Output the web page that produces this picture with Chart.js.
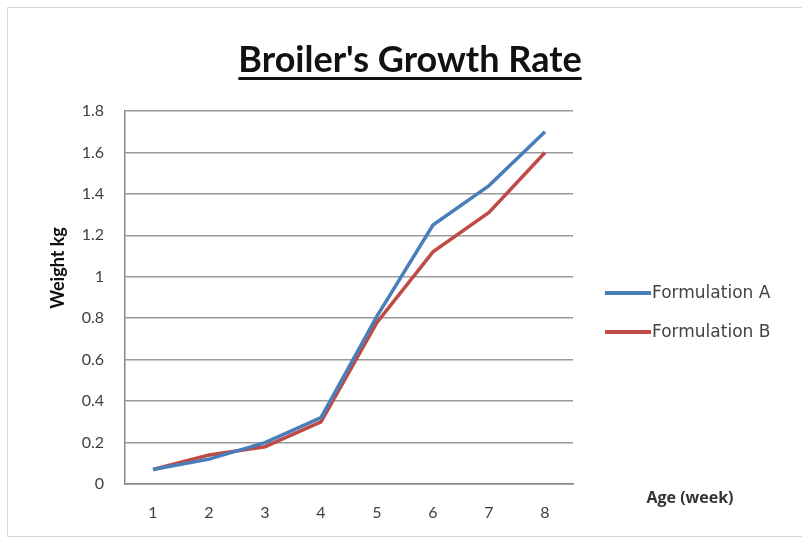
<!DOCTYPE html>
<html>
<head>
<meta charset="utf-8">
<script src="https://cdn.jsdelivr.net/npm/chart.js@4.4.0/dist/chart.umd.min.js"></script>
<style>
  html, body { margin: 0; padding: 0; background: #fff; }
  #wrap { position: relative; width: 802px; height: 545px; }
  #frame { position: absolute; left: 7px; top: 7px; width: 800px; height: 530px; border: 1px solid #d8d8d8; box-sizing: border-box; }
  canvas { position: absolute; left: 0; top: 0; }
</style>
</head>
<body>
<div id="wrap">
  <div id="frame"></div>
  <canvas id="growthChart" width="802" height="545"></canvas>
</div>
<script>
  var weeks = ['1', '2', '3', '4', '5', '6', '7', '8'];
  var formulationA = [0.07, 0.12, 0.20, 0.32, 0.81, 1.25, 1.44, 1.70];
  var formulationB = [0.07, 0.14, 0.18, 0.30, 0.78, 1.12, 1.31, 1.60];
  var seriesNames = ['Formulation A', 'Formulation B'];
  var chartTitle = "Broiler's Growth Rate";
  var yTitle = 'Weight kg';
  var xTitle = 'Age (week)';

  var font = "Lato, 'Open Sans', sans-serif";

  /* titles and legend drawn by hand */
  var decorations = {
    id: 'decorations',
    afterDraw: function (chart) {
      var ctx = chart.ctx;
      ctx.save();
      ctx.fillStyle = '#111';
      ctx.font = 'bold 36px ' + font;
      ctx.textAlign = 'center';
      ctx.textBaseline = 'alphabetic';
      ctx.fillText(chartTitle, 410, 72);
      var w = ctx.measureText(chartTitle).width;
      ctx.fillRect(410 - w / 2, 77, w, 3);

      // y title
      ctx.save();
      ctx.translate(58, 268);
      ctx.rotate(-Math.PI / 2);
      ctx.textBaseline = 'middle';
      ctx.font = 'bold 18px ' + font;
      ctx.fillText(yTitle, 0, 0);
      ctx.restore();

      ctx.font = "bold 16px 'Open Sans', sans-serif";
      ctx.fillStyle = '#333';
      ctx.textBaseline = 'middle';
      ctx.fillText(xTitle, 690, 498);

      ctx.textAlign = 'left';
      ctx.font = "17px 'DejaVu Sans', sans-serif";
      chart.data.datasets.forEach(function (ds, i) {
        var y = 293 + i * 39;
        ctx.strokeStyle = ds.borderColor;
        ctx.lineWidth = 4;
        ctx.beginPath();
        ctx.moveTo(605, y);
        ctx.lineTo(651, y);
        ctx.stroke();
        ctx.fillStyle = '#444';
        ctx.fillText(ds.label, 652, y + 1);
      });
      ctx.restore();
    }
  };

  window.addEventListener('DOMContentLoaded', function () {
    var ctx = document.getElementById('growthChart').getContext('2d');
    new Chart(ctx, {
      type: 'line',
      data: {
        labels: weeks,
        datasets: [{
          label: seriesNames[0],
          data: formulationA,
          borderColor: '#4a7ebb',
          borderWidth: 3.5,
          pointRadius: 0,
          tension: 0
        }, {
          label: seriesNames[1],
          data: formulationB,
          borderColor: '#be4b48',
          borderWidth: 3.5,
          pointRadius: 0,
          tension: 0
        }]
      },
      options: {
        responsive: false,
        animation: false,
        layout: { padding: { left: 51, top: 111, right: 229, bottom: 0 } },
        plugins: {
          legend: { display: false },
          tooltip: { enabled: false }
        },
        scales: {
          x: {
            offset: true,
            grid: { display: false, drawTicks: false },
            border: { color: '#888', width: 1.5 },
            ticks: { color: '#404040', font: { family: font, size: 16 }, padding: 19 },
            afterFit: function (s) { s.height = 61; }
          },
          y: {
            min: 0,
            max: 1.8,
            grid: { color: '#999', lineWidth: 1.5, drawTicks: false },
            border: { color: '#888', width: 1.5 },
            ticks: {
              stepSize: 0.2,
              color: '#404040',
              font: { family: font, size: 16 },
              padding: 21,
              callback: function (v) { return String(Number(v.toFixed(1))); }
            },
            afterFit: function (s) { s.width = 74; }
          }
        }
      },
      plugins: [decorations]
    });
  });
</script>
</body>
</html>
